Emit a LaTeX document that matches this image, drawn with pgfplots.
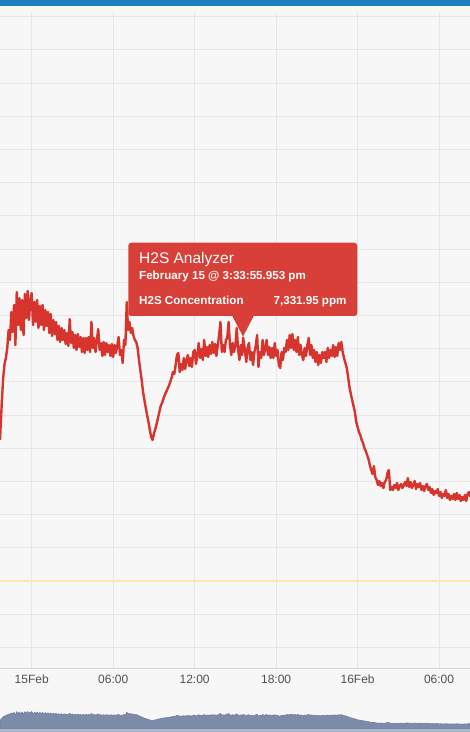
\documentclass[border=0pt]{standalone}
\usepackage{pgfplots}
\usepackage{pgfplotstable}
\pgfplotsset{compat=1.18}
\usepackage{fontspec}
\setmainfont{Liberation Sans}
\definecolor{bgc}{RGB}{247,247,247}
\definecolor{gridc}{RGB}{230,230,230}
\definecolor{axisc}{RGB}{214,214,214}
\definecolor{linec}{RGB}{214,52,44}
\definecolor{tipc}{RGB}{216,63,56}
\definecolor{navc}{RGB}{124,139,168}
\definecolor{navline}{RGB}{110,126,158}
\definecolor{navband}{RGB}{170,183,207}
\definecolor{bluebar}{RGB}{26,126,193}
\definecolor{yellowc}{RGB}{248,234,170}
\definecolor{tickc}{RGB}{80,80,80}
\pgfplotstableread{
h v
-2.334 4246
-2.3 4547
-2.2 5391
-2.1 6114
-2.0 6536
-1.9 6717
-1.8 7018
-1.7 7560
-1.6 7259
-1.5 8103
-1.4 7500
-1.3 8313
-1.2 7108
-1.1 8705
-1.0 7711
-0.9 8524
-0.8 7560
-0.7 8464
-0.6 7409
-0.5 8645
-0.4 7922
-0.3 8735
-0.2 7861
-0.1 8464
0.0 8675
0.1 7711
0.2 8404
0.3 7801
0.4 8464
0.5 7620
0.6 8283
0.7 7711
0.8 8313
0.9 7560
1.0 8163
1.1 7681
1.2 8103
1.3 7470
1.4 8042
1.5 7379
1.6 7861
1.7 7440
1.8 7801
1.9 7259
2.0 7681
2.1 7199
2.2 7620
2.3 7259
2.4 7560
2.5 7138
2.6 7470
2.7 7078
2.8 7891
2.9 7168
3.0 7500
3.1 7018
3.2 7409
3.3 6958
3.4 7440
3.5 7048
3.6 7349
3.7 6897
3.8 7319
3.9 6867
4.0 7319
4.1 6958
4.2 7349
4.3 6897
4.4 7801
4.5 7018
4.6 7319
4.7 6897
4.8 7259
4.9 7590
5.0 6958
5.1 7168
5.2 6777
5.3 7199
5.4 6807
5.5 7168
5.6 6897
5.7 7108
5.8 6777
5.9 7138
6.0 6747
6.1 7108
6.2 6867
6.3 7078
6.4 7349
6.5 6807
6.6 6958
6.7 6566
6.8 7259
6.9 7108
7.0 8404
7.1 7560
7.2 7801
7.3 7470
7.4 7620
7.5 7379
7.6 7259
7.7 7199
7.8 7018
7.9 6656
8.0 6355
8.1 6054
8.2 5692
8.3 5451
8.4 5210
8.5 4999
8.6 4788
8.7 4547
8.8 4336
8.9 4246
9.0 4426
9.1 4577
9.2 4728
9.3 4909
9.4 5090
9.5 5270
9.6 5361
9.7 5481
9.8 5602
9.9 5692
10.0 5782
10.1 5873
10.2 5994
10.3 6114
10.4 6295
10.5 6234
10.6 6506
10.7 6807
10.8 6867
10.9 6295
11.0 6536
11.1 6355
11.2 6717
11.3 6385
11.4 6656
11.5 6807
11.6 6476
11.7 6717
11.8 6445
11.9 6897
12.0 6958
12.1 6536
12.2 6807
12.3 7168
12.4 6717
12.5 6988
12.6 6656
12.7 7259
12.8 6777
12.9 7048
13.0 6747
13.1 7108
13.2 6837
13.3 7199
13.4 6867
13.5 7138
13.6 6777
13.7 7078
13.8 7409
13.9 7801
14.0 6897
14.1 7108
14.2 6897
14.3 7259
14.4 7319
14.5 7801
14.6 7108
14.7 6807
14.8 7168
14.9 6897
15.0 7108
15.1 7620
15.2 6958
15.3 6656
15.4 7108
15.5 6807
15.57 7331.95
15.7 6958
15.8 6596
15.9 7018
16.0 7168
16.1 6656
16.2 6897
16.3 6506
16.4 6897
16.5 7078
16.6 7409
16.7 6445
16.8 6897
16.9 6717
17.0 7259
17.1 6807
17.2 7018
17.3 7259
17.4 6807
17.5 7048
17.6 6717
17.7 7018
17.8 6717
17.9 7168
18.0 6777
18.1 6958
18.2 6506
18.3 6415
18.4 6897
18.5 6656
18.6 7018
18.7 6897
18.8 7259
18.9 6958
19.0 7409
19.1 7018
19.2 7440
19.3 6958
19.4 7259
19.5 6897
19.6 7349
19.7 6807
19.8 7108
19.9 6807
20.0 6656
20.1 7018
20.2 6777
20.3 7108
20.4 7319
20.5 6807
20.6 7108
20.7 6717
20.8 6958
20.9 6596
21.0 6897
21.1 6506
21.2 6807
21.3 6566
21.4 6897
21.5 6717
21.6 6897
21.7 6596
21.8 7018
21.9 6717
22.0 6958
22.1 6777
22.2 7108
22.3 6747
22.4 7048
22.5 6777
22.6 7168
22.7 6958
22.8 7199
22.9 6897
23.0 6717
23.1 6566
23.2 6415
23.3 6144
23.4 5843
23.5 5632
23.6 5451
23.7 5270
23.8 5090
23.9 4788
24.0 4637
24.1 4487
24.2 4396
24.3 4246
24.4 4156
24.5 4005
24.6 3914
24.7 3794
24.8 3673
24.9 3492
25.0 3342
25.1 3221
25.2 3462
25.3 3131
25.4 3040
25.5 2890
25.6 3010
25.7 2860
25.8 2950
25.9 2799
26.0 2980
26.1 3040
26.2 3251
26.3 3342
26.4 2739
26.5 2830
26.6 2739
26.7 2890
26.8 2799
26.9 2950
27.0 2739
27.1 2860
27.2 2920
27.3 2799
27.4 2890
27.5 2980
27.6 2860
27.7 3101
27.8 2830
27.9 2980
28.0 2799
28.1 2890
28.2 3010
28.3 2769
28.4 2920
28.5 2830
28.6 2950
28.7 2739
28.8 2860
28.9 2709
29.0 2860
29.1 2920
29.2 2739
29.3 2830
29.4 2649
29.5 2769
29.6 2589
29.7 2709
29.8 2649
29.9 2769
30.0 2559
30.1 2679
30.2 2498
30.3 2619
30.4 2559
30.5 2739
30.6 2498
30.7 2619
30.8 2438
30.9 2559
31.0 2468
31.1 2619
31.2 2438
31.3 2649
31.4 2468
31.5 2589
31.6 2408
31.7 2529
31.8 2438
31.9 2589
32.0 2408
32.1 2619
32.2 2679
32.3 2529
}\data
\begin{document}
\begin{tikzpicture}[x=1pt,y=1pt]
\fill[bgc] (0,0) rectangle (470,732);
\begin{axis}[
  at={(0pt,63.3pt)}, anchor=south west,
  scale only axis, width=470pt, height=655.7pt,
  xmin=-2.334, xmax=32.277, ymin=-2645, ymax=17111,
  scaled x ticks=false, scaled y ticks=false,
  axis line style={draw=none},
  grid=major,
  major grid style={draw=gridc, line width=0.9pt},
  major tick length=0pt,
  xtick={0,6,12,18,24,30},
  xticklabels={15Feb,06:00,12:00,18:00,16Feb,06:00},
  xticklabel style={anchor=center, yshift=-10.5pt, text=tickc, font=\fontsize{12}{14}\selectfont},
  ytick={-2000,-1000,...,17000},
  yticklabels={},
  clip=true,
]
\draw[axisc, line width=1pt] (rel axis cs:0,0) -- (rel axis cs:1,0);
\addplot[yellowc, line width=1.6pt, forget plot] coordinates {(-3,0) (33,0)};
\addplot[linec, line width=2.4pt, line join=round, mark=none] table[x=h, y=v] {\data};
\end{axis}
\begin{axis}[
  at={(0pt,3pt)}, anchor=south west,
  scale only axis, width=470pt, height=34pt,
  xmin=-2.334, xmax=32.277, ymin=0, ymax=17000,
  hide axis, clip=true,
]
\addplot[fill=navc, draw=navline, line width=0.5pt, mark=none] table[x=h, y=v] {\data} \closedcycle;
\end{axis}
\fill[navband] (0,0) rectangle (470,3);
\fill[bluebar] (0,726) rectangle (470,732);
% tooltip
\fill[tipc, rounded corners=3pt] (128.3,416) rectangle (357.3,489.3);
\fill[tipc] (232,416.5) -- (243,395.5) -- (254,416.5) -- cycle;
\node[anchor=base west, text=white, inner sep=0pt] at (139,468.7) {\fontsize{15.5}{18}\selectfont H2S Analyzer};
\node[anchor=base west, text=white, inner sep=0pt] at (139,452) {\fontsize{11.6}{14}\selectfont\bfseries February 15 @ 3:33:55.953 pm};
\node[anchor=base west, text=white, inner sep=0pt] at (139,427.7) {\fontsize{11.6}{14}\selectfont\bfseries H2S Concentration};
\node[anchor=base east, text=white, inner sep=0pt] at (346.7,427.7) {\fontsize{11.6}{14}\selectfont\bfseries 7,331.95 ppm};
\pgfresetboundingbox
\useasboundingbox (0,0) rectangle (470,732);
\end{tikzpicture}
\end{document}
